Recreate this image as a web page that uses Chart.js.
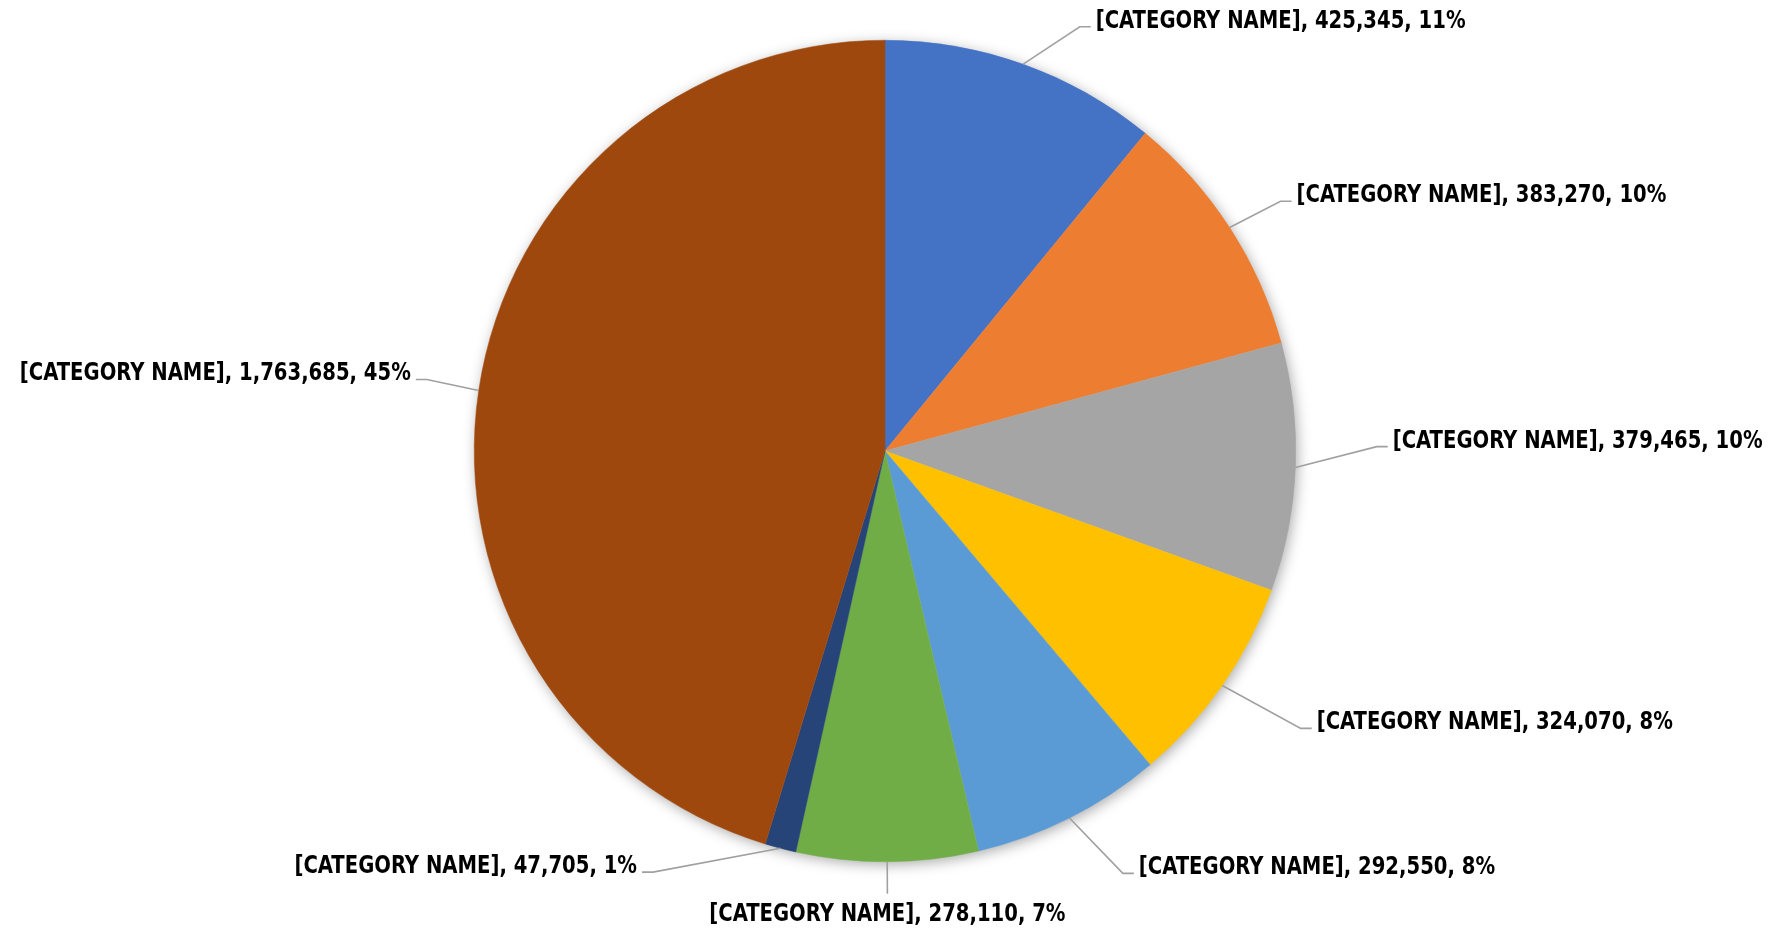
<!DOCTYPE html>
<html>
<head>
<meta charset="utf-8">
<script src="https://cdn.jsdelivr.net/npm/chart.js@4/dist/chart.umd.min.js"></script>
<style>
  html, body { margin: 0; padding: 0; background: #fff; }
  #wrap { width: 1781px; height: 928px; position: relative; }
</style>
</head>
<body>
<div id="wrap"><canvas id="pie"></canvas></div>
<script>
// data, clockwise from 12 o'clock
const categories = [
    '[CATEGORY NAME]', '[CATEGORY NAME]', '[CATEGORY NAME]', '[CATEGORY NAME]',
    '[CATEGORY NAME]', '[CATEGORY NAME]', '[CATEGORY NAME]', '[CATEGORY NAME]'
]
const values = [425345, 383270, 379465, 324070, 292550, 278110, 47705, 1763685]
const sliceColors = ['#4472C4', '#ED7D31', '#A5A5A5', '#FFC000', '#5B9BD5', '#70AD47', '#264478', '#9E480E']

// how each leader line bends away from the slice middle (degrees) and how far it reaches past the rim (px)
const leaderTurn = [5, 0.7, -2.8, -1.1, -2.7, 0, 14.1, 0.4]
const leaderReach = [56, 57, 81, 89, 74, 32, 70, 53]

const fontFamily = "'Liberation Sans Narrow', 'DejaVu Sans Condensed', 'Open Sans', sans-serif"

function labelText(i) {
    let total = values.reduce((a, b) => a + b, 0)
    let pct = Math.round(values[i] / total * 100)
    return categories[i] + ', ' + values[i].toLocaleString('en-US') + ', ' + pct + '%'
}

const leaderLabels = {
    id: 'leaderLabels',
    beforeDatasetsDraw(chart) {
        let arc = chart.getDatasetMeta(0).data[0]
        if (!arc) return
        let ctx = chart.ctx
        ctx.save()
        ctx.shadowColor = 'rgba(0,0,0,0.35)'
        ctx.shadowBlur = 14
        ctx.shadowOffsetX = 2
        ctx.shadowOffsetY = 3
        ctx.fillStyle = '#fff'
        ctx.beginPath()
        ctx.arc(arc.x, arc.y, arc.outerRadius - 0.5, 0, Math.PI * 2)
        ctx.fill()
        ctx.restore()
    },
    afterDatasetsDraw(chart) {
        let ctx = chart.ctx
        let arcs = chart.getDatasetMeta(0).data

        // fit font so the longest label is as wide as in the original,
        // then stretch vertically so capitals are as tall (Calibri is narrow)
        let longest = labelText(values.indexOf(Math.max(...values)))
        ctx.save()
        ctx.font = 'bold 100px ' + fontFamily
        let size = 100 * 391 / ctx.measureText(longest).width
        ctx.font = 'bold ' + size.toFixed(2) + 'px ' + fontFamily
        let capH = ctx.measureText('H').actualBoundingBoxAscent || size * 0.72
        let stretch = Math.min(Math.max(18.3 / capH, 1), 1.35)
        ctx.fillStyle = '#000'
        ctx.strokeStyle = '#A0A0A0'
        ctx.lineWidth = 1.6

        function put(text, x, y, align) {
            ctx.save()
            ctx.translate(x, y)
            ctx.scale(1, stretch)
            ctx.textAlign = align
            ctx.textBaseline = 'alphabetic'
            ctx.fillText(text, 0, 0)
            ctx.restore()
        }

        arcs.forEach((arc, i) => {
            let r = arc.outerRadius
            let mid = (arc.startAngle + arc.endAngle) / 2
            let sx = arc.x + Math.cos(mid) * r
            let sy = arc.y + Math.sin(mid) * r
            let a = mid + leaderTurn[i] * Math.PI / 180
            let ex = arc.x + Math.cos(a) * (r + leaderReach[i])
            let ey = arc.y + Math.sin(a) * (r + leaderReach[i])
            let text = labelText(i)

            ctx.beginPath()
            ctx.moveTo(sx, sy)
            ctx.lineTo(ex, ey)
            let c = Math.cos(a)
            if (c > 0.15) {
                ctx.lineTo(ex + 11, ey)
                ctx.stroke()
                put(text, ex + 16, ey + 1, 'left')
            } else if (c < -0.15) {
                ctx.lineTo(ex - 11, ey)
                ctx.stroke()
                put(text, ex - 16, ey + 1, 'right')
            } else {
                ctx.stroke()
                put(text, ex, ey + 27, 'center')
            }
        })
        ctx.restore()
    }
}

new Chart(document.getElementById('pie'), {
    type: 'pie',
    data: {
        labels: categories,
        datasets: [{
            data: values,
            backgroundColor: sliceColors,
            borderColor: sliceColors,
            borderWidth: 0.5,
            hoverOffset: 0
        }]
    },
    options: {
        responsive: true,
        maintainAspectRatio: false,
        animation: false,
        layout: { padding: { top: 40, bottom: 66, left: 0, right: 11 } },
        plugins: {
            legend: { display: false },
            tooltip: { enabled: false }
        }
    },
    plugins: [leaderLabels]
})
</script>
</body>
</html>
